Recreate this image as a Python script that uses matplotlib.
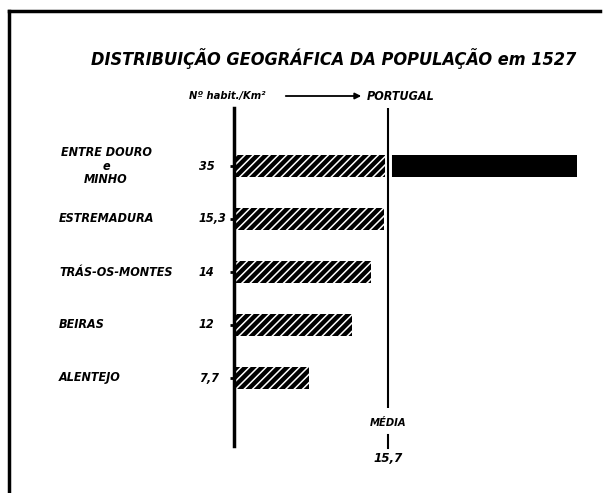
import matplotlib
matplotlib.use("Agg")
import matplotlib.pyplot as plt
import matplotlib.transforms as mtransforms
import matplotlib.patheffects as pe
from matplotlib.patches import FancyArrowPatch

# data (habitantes por km2, 1527)
regions = ["ENTRE DOURO\ne\nMINHO", "ESTREMADURA", "TRÁS-OS-MONTES", "BEIRAS", "ALENTEJO"]
density = [35, 15.3, 14, 12, 7.7]
density_labels = ["35", "15,3", "14", "12", "7,7"]
mean_density = 15.7
mean_label = "15,7"

title = "DISTRIBUIÇÃO GEOGRÁFICA DA POPULAÇÃO em 1527"

plt.rcParams['font.family'] = ['DejaVu Sans']
plt.rcParams['font.stretch'] = 'condensed'
plt.rcParams['font.weight'] = 'bold'
plt.rcParams['font.style'] = 'italic'
plt.rcParams['hatch.linewidth'] = 1.1

W, H = 603, 493
fig = plt.figure(figsize=(W / 100, H / 100), dpi=100)

def fx(px):
    return px / W

def fy(py):
    return 1 - py / H

# axes box in pixels: zero line at x=234, from y=108 to y=446
x0, y_top, y_bot = 234, 108, 446
px_per_unit = 9.8
row0, row_step = 166, 53
ax = fig.add_axes([fx(x0), fy(y_bot), fx(600) - fx(x0), fy(y_top) - fy(y_bot)])
ax.set_xlim(0, (600 - x0) / px_per_unit)
ax.set_ylim((y_bot - row0) / row_step, (y_top - row0) / row_step)

ypos = list(range(len(regions)))
hatched = [min(v, mean_density) for v in density]
ax.barh(ypos, hatched, height=0.43, color='black', edgecolor='white',
        linewidth=0, hatch='////')
for y, v in zip(ypos, density):
    if v > mean_density:
        ax.barh(y, v - mean_density, left=mean_density, height=0.43,
                color='black', linewidth=0)

# media line
ax.vlines(mean_density, (y_top - row0) / row_step, (408 - row0) / row_step,
          color='black', lw=1.5, clip_on=False,
          path_effects=[pe.withStroke(linewidth=5, foreground='white')])

for s in ['top', 'right', 'bottom']:
    ax.spines[s].set_visible(False)
ax.spines['left'].set_linewidth(2.5)
ax.set_xticks([])
ax.set_yticks(ypos)
ax.set_yticklabels([])
ax.tick_params(axis='y', length=3, width=2, direction='out')
ax.patch.set_alpha(0)

lab_tr = mtransforms.blended_transform_factory(fig.transFigure, ax.transData)
for y, name, lab in zip(ypos, regions, density_labels):
    if '\n' in name:
        ax.text(fx(106), y, name, transform=lab_tr, ha='center', va='center',
                fontsize=9, linespacing=1.05)
    else:
        ax.text(fx(59), y, name, transform=lab_tr, ha='left', va='center',
                fontsize=9)
    ax.text(fx(199), y, lab, transform=lab_tr, ha='left', va='center', fontsize=9)

# media labels under the line
med_tr = mtransforms.blended_transform_factory(ax.transData, fig.transFigure)
ax.text(mean_density, fy(423), "MÉDIA", transform=med_tr, ha='center', va='center',
        fontsize=8, clip_on=False)
ax.plot([mean_density, mean_density], [fy(435), fy(448)], transform=med_tr,
        color='black', lw=1.5, clip_on=False)
ax.text(mean_density, fy(458), mean_label, transform=med_tr, ha='center', va='center',
        fontsize=9.5, clip_on=False)

# title and unit
fig.text(fx(334), fy(59), title, ha='center', va='center', fontsize=13)
fig.text(fx(189), fy(96), "Nº habit./Km²", ha='left', va='center', fontsize=8)
fig.add_artist(FancyArrowPatch(
    (fx(283), fy(96)), (fx(364), fy(96)), transform=fig.transFigure,
    arrowstyle='-|>', mutation_scale=9, lw=1.3, color='black'))
fig.text(fx(367), fy(96), "PORTUGAL", ha='left', va='center', fontsize=9)

# frame (top and left border of the page)
fig.add_artist(plt.Line2D([fx(9), fx(600)], [fy(11), fy(11)], color='black', lw=2.5,
                          transform=fig.transFigure))
fig.add_artist(plt.Line2D([fx(9), fx(9)], [fy(11), fy(493)], color='black', lw=2.5,
                          transform=fig.transFigure))

fig.savefig("out.png", dpi=100)
